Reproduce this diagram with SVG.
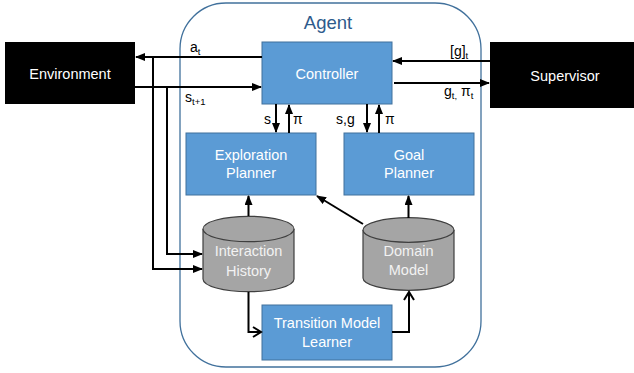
<svg xmlns="http://www.w3.org/2000/svg" width="634" height="373" viewBox="0 0 634 373">
<style>
text{font-family:"Liberation Sans",Arial,sans-serif;}
.box{fill:#5b9bd5;stroke:#41719c;stroke-width:1;}
.blk{fill:#000;}
.cyl{fill:#a5a5a5;stroke:#3f3f3f;stroke-width:1.2;}
.wt{fill:#fff;font-size:14.5px;text-anchor:middle;}
.ct{fill:#f2f2f2;font-size:14.5px;text-anchor:middle;}
.lbl{fill:#000;font-size:14px;}
.ln{fill:none;stroke:#000;stroke-width:2;}
</style>
<defs>
<marker id="ah" markerWidth="10" markerHeight="8" refX="9" refY="4" orient="auto" markerUnits="userSpaceOnUse">
<path d="M0,0 L10,4 L0,8 Z" fill="#000"/>
</marker>
<marker id="oh" markerWidth="12" markerHeight="12" refX="10" refY="6" orient="auto" markerUnits="userSpaceOnUse">
<path d="M2,1 L10,6 L2,11" fill="none" stroke="#000" stroke-width="2"/>
</marker>
</defs>

<g id="agent">
<rect x="180" y="3" width="301" height="364" rx="46" ry="46" fill="#fff" stroke="#41719c" stroke-width="1.3"/>
<text x="328" y="29" style="font-size:18.5px;fill:#2e5b8c;text-anchor:middle;">Agent</text>
</g>

<g id="environment">
<rect class="blk" x="5" y="42" width="130" height="62"/>
<text class="wt" x="70" y="79">Environment</text>
</g>

<g id="supervisor">
<rect class="blk" x="490" y="42" width="150" height="66"/>
<text class="wt" x="565" y="81">Supervisor</text>
</g>

<g id="controller">
<rect class="box" x="262" y="42" width="130" height="62"/>
<text class="wt" x="327" y="79">Controller</text>
</g>

<g id="exploration-planner">
<rect class="box" x="186" y="133" width="130" height="62"/>
<text class="wt" x="251" y="160">Exploration</text>
<text class="wt" x="251" y="178">Planner</text>
</g>

<g id="goal-planner">
<rect class="box" x="344" y="133" width="130" height="62"/>
<text class="wt" x="409" y="160">Goal</text>
<text class="wt" x="409" y="178">Planner</text>
</g>

<g id="interaction-history">
<path class="cyl" d="M203,229 A45.5,12.7 0 0 1 294,229 V279 A45.5,12.7 0 0 1 203,279 Z"/>
<path class="cyl" d="M203,229 A45.5,12.7 0 0 0 294,229"/>
<text class="ct" x="248.5" y="256">Interaction</text>
<text class="ct" x="248.5" y="276">History</text>
</g>

<g id="domain-model">
<path class="cyl" d="M363,230 A45.5,12.3 0 0 1 454,230 V278 A45.5,12.3 0 0 1 363,278 Z"/>
<path class="cyl" d="M363,230 A45.5,12.3 0 0 0 454,230"/>
<text class="ct" x="408.5" y="256">Domain</text>
<text class="ct" x="408.5" y="275">Model</text>
</g>

<g id="transition-model-learner">
<rect class="box" x="262" y="305" width="130" height="55"/>
<text class="wt" x="327" y="328">Transition Model</text>
<text class="wt" x="327" y="347">Learner</text>
</g>

<g id="connectors">
<line class="ln" x1="262" y1="57" x2="136" y2="57" marker-end="url(#ah)"/>
<line class="ln" x1="135" y1="87" x2="261" y2="87" marker-end="url(#ah)"/>
<polyline class="ln" points="153,57 153,269 202,269" marker-end="url(#ah)"/>
<polyline class="ln" points="167,87 167,254 202,254" marker-end="url(#ah)"/>
<line class="ln" x1="490" y1="61" x2="393" y2="61" marker-end="url(#ah)"/>
<line class="ln" x1="394" y1="83" x2="489" y2="83" marker-end="url(#ah)"/>
<line class="ln" x1="276" y1="104" x2="276" y2="132" marker-end="url(#ah)"/>
<line class="ln" x1="289" y1="133" x2="289" y2="105" marker-end="url(#ah)"/>
<line class="ln" x1="367" y1="104" x2="367" y2="132" marker-end="url(#ah)"/>
<line class="ln" x1="379" y1="133" x2="379" y2="105" marker-end="url(#ah)"/>
<line class="ln" x1="248.5" y1="216" x2="248.5" y2="196" marker-end="url(#ah)"/>
<line class="ln" x1="408.5" y1="218" x2="408.5" y2="196" marker-end="url(#ah)"/>
<line class="ln" x1="363" y1="224" x2="317" y2="196" marker-end="url(#ah)"/>
<polyline class="ln" points="248.5,292 248.5,332 261,332" marker-end="url(#oh)"/>
<polyline class="ln" points="392,332 409,332 409,292" marker-end="url(#oh)"/>
<text class="lbl" x="190" y="52">a<tspan font-size="9.5" dy="3">t</tspan></text>
<text class="lbl" x="185" y="102">s<tspan font-size="9.5" dy="3">t+1</tspan></text>
<text class="lbl" x="450" y="56">[g]<tspan font-size="9.5" dy="3">t</tspan></text>
<text class="lbl" x="444" y="96">g<tspan font-size="9.5" dy="3">t,</tspan><tspan dy="-3"> π</tspan><tspan font-size="9.5" dy="3">t</tspan></text>
<text class="lbl" x="264" y="124">s</text>
<text class="lbl" x="293" y="124">π</text>
<text class="lbl" x="336" y="124">s,g</text>
<text class="lbl" x="385" y="124">π</text>
</g>
</svg>
